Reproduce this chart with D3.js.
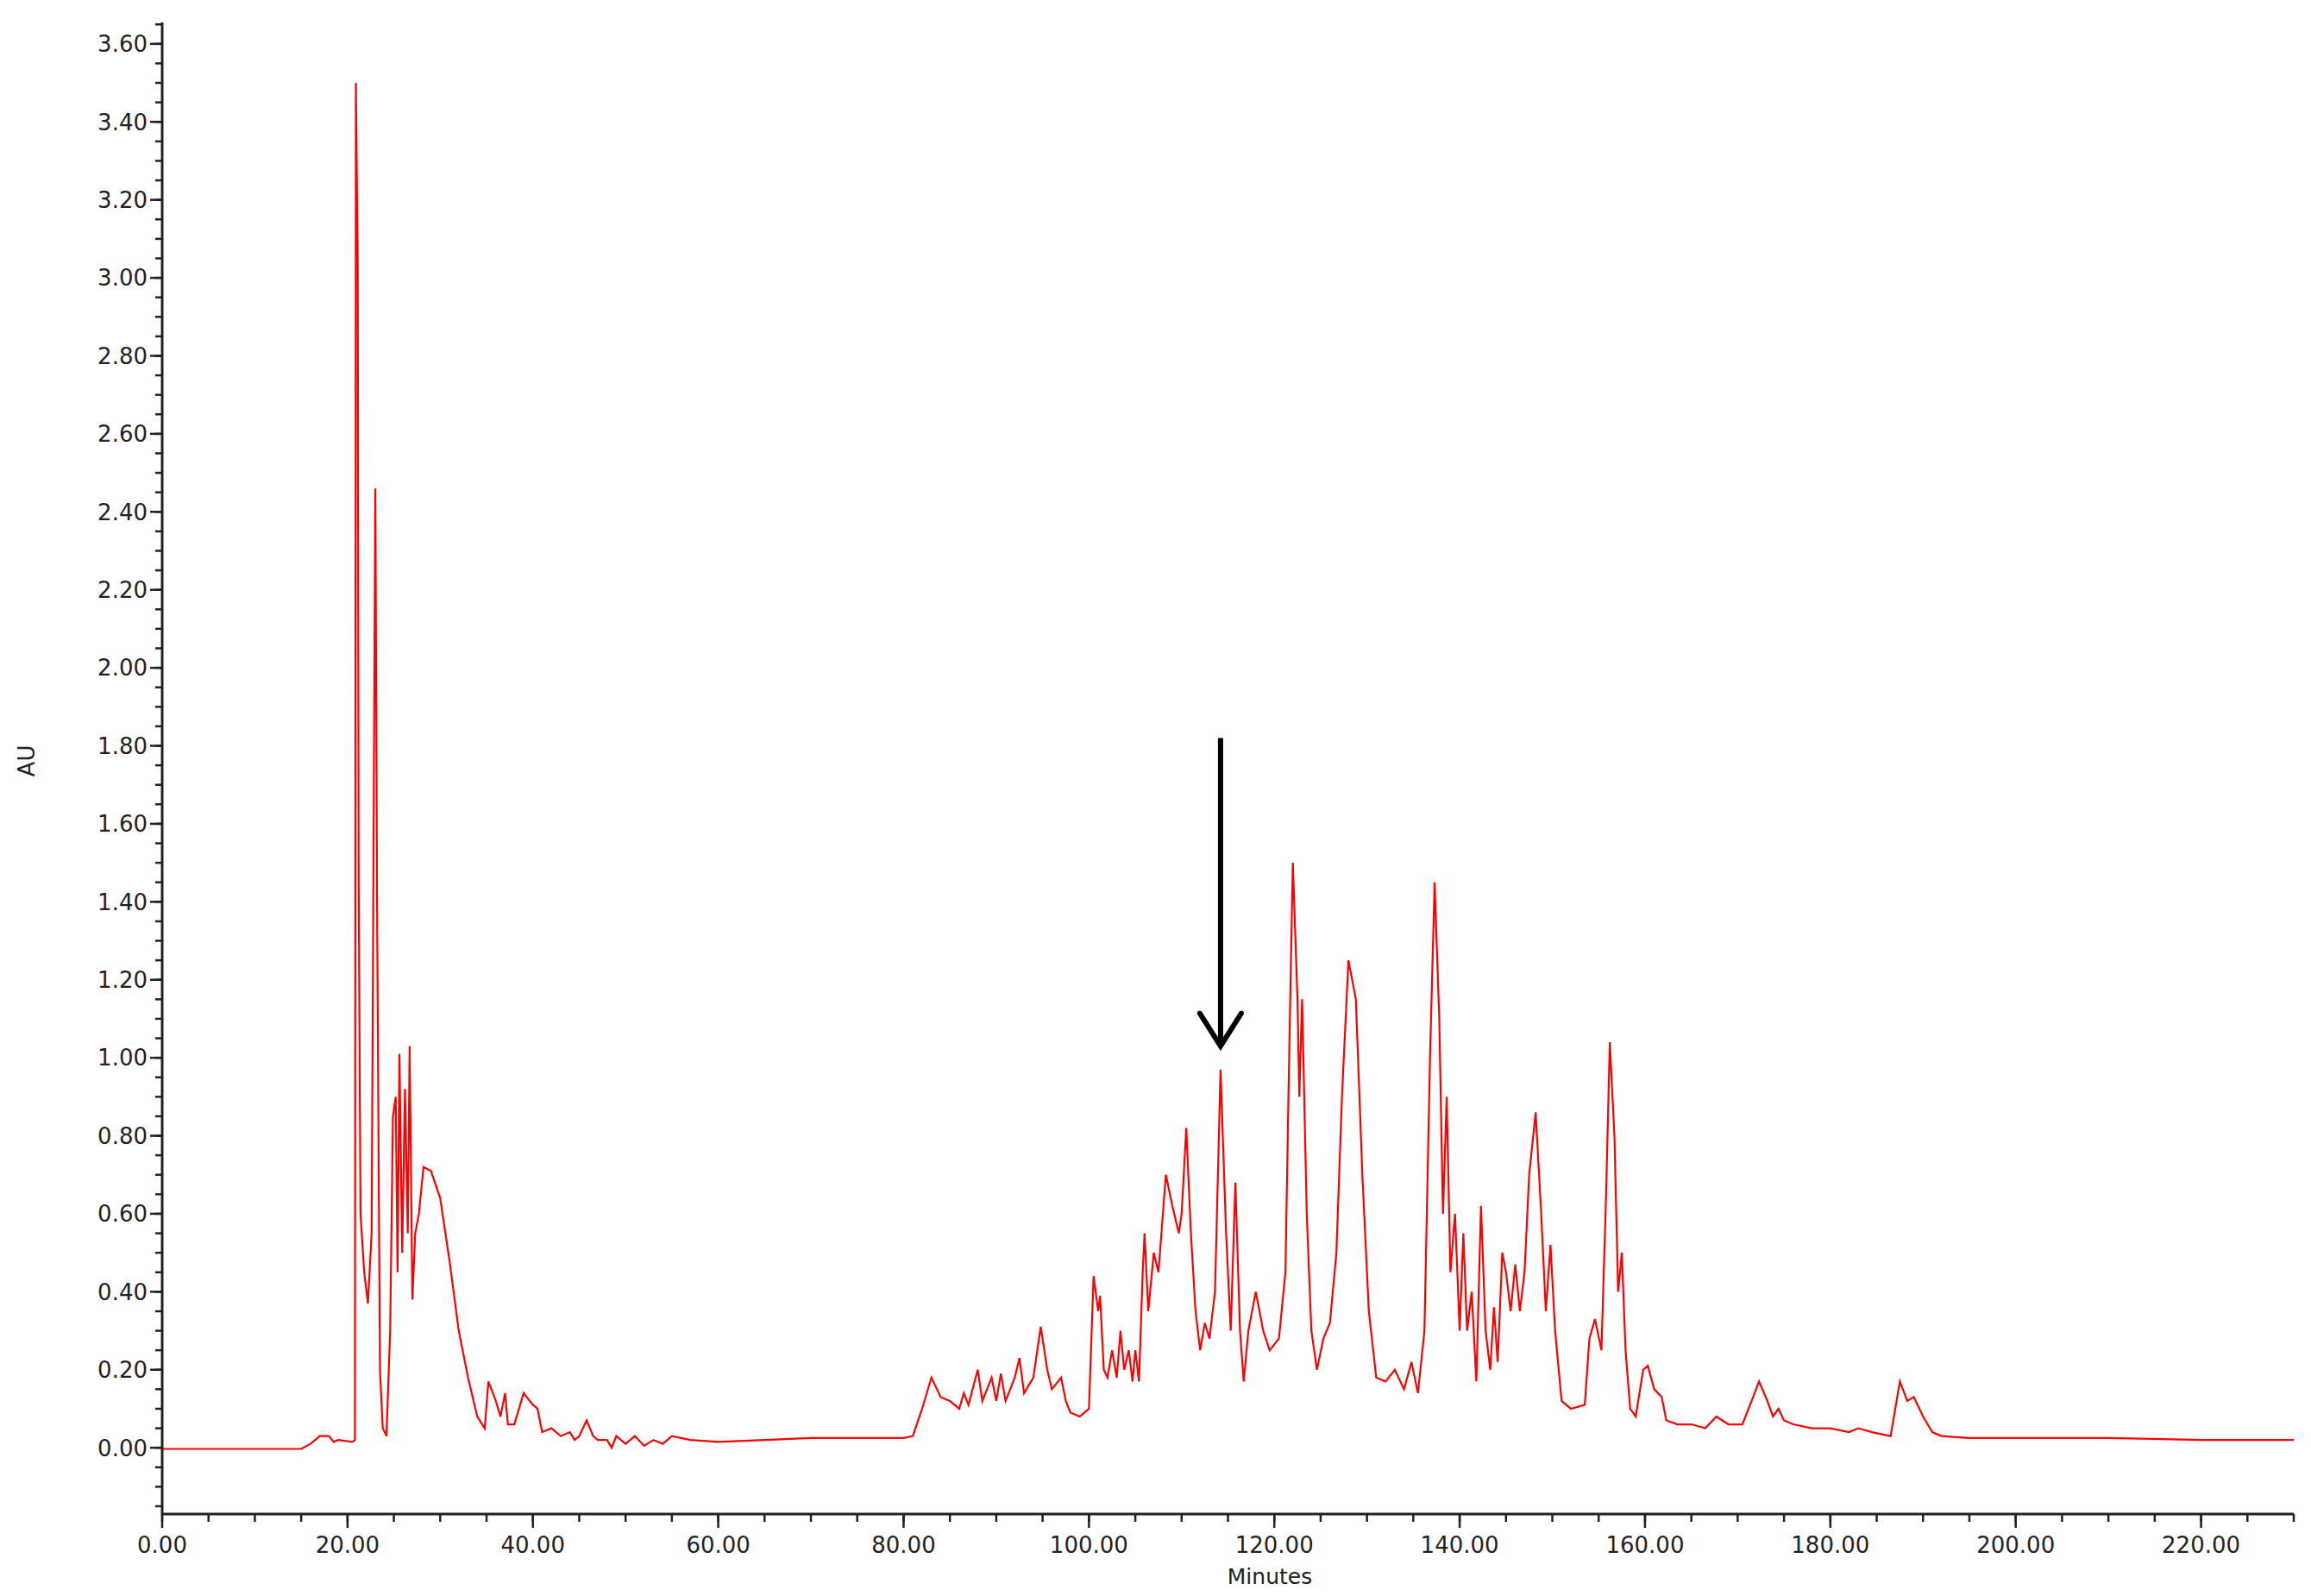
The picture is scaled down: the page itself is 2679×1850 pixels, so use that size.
<!DOCTYPE html>
<html><head><meta charset="utf-8">
<script src="https://cdn.jsdelivr.net/npm/d3@7"></script>
<style>body{margin:0;background:#fff}svg{display:block}</style>
</head><body>
<script>
const times = [0,15,16,17,18,18.5,19,20.5,20.8,20.9,21.1,21.2,21.4,21.8,22.2,22.6,23.0,23.2,23.5,23.8,24.2,24.6,24.9,25.2,25.4,25.6,25.9,26.2,26.5,26.7,27.0,27.3,27.7,28.2,29,30,31,32,33,34,34.8,35.2,36,36.5,37,37.3,38,39,40,40.5,41,42,43,44,44.5,45,45.8,46.5,47,48,48.5,49,50,51,52,53,54,55,57,60,65,70,75,80,81,82,83,84,85,86,86.5,87,88,88.5,89.5,90,90.5,91,92,92.5,93,94,94.8,95.5,96,97,97.5,98,99,100,100.5,101,101.2,101.6,102,102.5,103,103.4,103.8,104.3,104.7,105,105.4,105.8,106,106.4,107,107.5,108.3,109,109.7,110,110.5,111,111.5,112,112.5,113,113.6,114.2,114.8,115.3,115.8,116.3,116.7,117.2,118,118.8,119.5,120.5,121.2,121.6,122,122.5,122.7,123,123.5,124,124.6,125.3,126,126.7,127.3,128,128.8,129.5,130.2,131,132,133,134,134.8,135.5,136.2,136.8,137.3,137.8,138.2,138.6,139,139.5,140,140.4,140.8,141.3,141.8,142.3,142.8,143.3,143.7,144.1,144.6,145,145.5,146,146.5,147,147.5,148.2,148.8,149.3,149.8,150.3,151,152,153.5,154,154.6,155.3,155.8,156.2,156.7,157.1,157.5,157.9,158.4,159,159.8,160.3,161,161.8,162.3,163.5,165,166.5,167.7,169,170.5,171.5,172.3,173.2,173.8,174.4,175,176,178,180,182,183,184.5,186.5,187,187.5,188.3,189,190,191,192,195,200,210,220,230];
const absorb = [-0.003,-0.003,0.01,0.03,0.03,0.015,0.02,0.015,0.02,3.50,3.03,1.45,0.6,0.45,0.37,0.55,2.46,1.33,0.2,0.05,0.03,0.3,0.85,0.9,0.45,1.01,0.5,0.92,0.55,1.03,0.38,0.55,0.6,0.72,0.71,0.64,0.48,0.3,0.18,0.08,0.05,0.17,0.12,0.08,0.14,0.06,0.06,0.14,0.11,0.1,0.04,0.05,0.03,0.04,0.02,0.03,0.07,0.03,0.02,0.02,0.0,0.03,0.01,0.03,0.005,0.02,0.01,0.03,0.02,0.015,0.02,0.025,0.025,0.025,0.03,0.1,0.18,0.13,0.12,0.1,0.14,0.11,0.2,0.12,0.18,0.12,0.19,0.12,0.18,0.23,0.14,0.18,0.31,0.2,0.15,0.18,0.12,0.09,0.08,0.1,0.44,0.35,0.39,0.2,0.18,0.25,0.18,0.3,0.2,0.25,0.17,0.25,0.17,0.45,0.55,0.35,0.5,0.45,0.7,0.62,0.55,0.6,0.82,0.55,0.35,0.25,0.32,0.28,0.4,0.97,0.55,0.3,0.68,0.3,0.17,0.3,0.4,0.3,0.25,0.28,0.45,1.0,1.5,1.15,0.9,1.15,0.6,0.3,0.2,0.28,0.32,0.5,0.9,1.25,1.15,0.7,0.35,0.18,0.17,0.2,0.15,0.22,0.14,0.3,1.0,1.45,1.1,0.6,0.9,0.45,0.6,0.3,0.55,0.3,0.4,0.17,0.62,0.3,0.2,0.36,0.22,0.5,0.45,0.35,0.47,0.35,0.45,0.7,0.86,0.6,0.35,0.52,0.3,0.12,0.1,0.11,0.28,0.33,0.25,0.65,1.04,0.8,0.4,0.5,0.25,0.1,0.08,0.2,0.21,0.15,0.13,0.07,0.06,0.06,0.05,0.08,0.06,0.06,0.12,0.17,0.12,0.08,0.1,0.07,0.06,0.05,0.05,0.04,0.05,0.04,0.03,0.1,0.17,0.12,0.13,0.08,0.04,0.03,0.025,0.025,0.025,0.02,0.02];
const yTicks = [0,0.2,0.4,0.6,0.8,1.0,1.2,1.4,1.6,1.8,2.0,2.2,2.4,2.6,2.8,3.0,3.2,3.4,3.6];
const xTicks = [0,20,40,60,80,100,120,140,160,180,200,220];
const arrowAt = {t:114.2, from:1.82, to:1.03};

const W=2679,H=1850;
const svg=d3.select("body").append("svg").attr("width",W).attr("height",H);
const x=d3.scaleLinear().domain([0,230]).range([188,2659]);
const y=d3.scaleLinear().domain([-0.17,3.655]).range([1755,26]);
const font="'DejaVu Sans', Verdana, sans-serif";

const data=times.map((t,i)=>[t,absorb[i]]);
svg.append("path").datum(data).attr("fill","none").attr("stroke","#ff0000").attr("stroke-width",2.2)
  .attr("d",d3.line().x(d=>x(d[0])).y(d=>y(d[1])));

const ya=svg.append("g").attr("transform","translate(188,0)");
ya.append("line").attr("y1",26).attr("y2",1755).attr("stroke","#222").attr("stroke-width",3);
const yMinor=d3.range(-0.15,3.66,0.05);
ya.selectAll(".ym").data(yMinor).join("line").attr("x1",-8).attr("x2",0).attr("y1",d=>y(d)).attr("y2",d=>y(d)).attr("stroke","#222").attr("stroke-width",2.5);
ya.selectAll(".yM").data(yTicks).join("line").attr("x1",-14).attr("x2",0).attr("y1",d=>y(d)).attr("y2",d=>y(d)).attr("stroke","#222").attr("stroke-width",2.5);
ya.selectAll("text").data(yTicks).join("text").attr("x",-17).attr("y",d=>y(d)).attr("dy","0.36em")
  .attr("text-anchor","end").attr("font-family",font).attr("font-size",26).attr("fill","#222").text(d=>d.toFixed(2));

const xa=svg.append("g").attr("transform","translate(0,1755)");
xa.append("line").attr("x1",188).attr("x2",2659).attr("stroke","#222").attr("stroke-width",3);
const xMinor=d3.range(0,231,5);
xa.selectAll(".xm").data(xMinor).join("line").attr("x1",d=>x(d)).attr("x2",d=>x(d)).attr("y1",0).attr("y2",9).attr("stroke","#222").attr("stroke-width",2.5);
xa.selectAll(".xM").data(xTicks).join("line").attr("x1",d=>x(d)).attr("x2",d=>x(d)).attr("y1",0).attr("y2",16).attr("stroke","#222").attr("stroke-width",2.5);
xa.selectAll("text").data(xTicks).join("text").attr("x",d=>x(d)).attr("y",45)
  .attr("text-anchor","middle").attr("font-family",font).attr("font-size",26).attr("fill","#222").text(d=>d.toFixed(2));

svg.append("text").attr("x",1472).attr("y",1836).attr("text-anchor","middle").attr("font-family",font).attr("font-size",25).attr("fill","#222").text("Minutes");
svg.append("text").attr("transform","translate(40,882) rotate(-90)").attr("text-anchor","middle").attr("font-family",font).attr("font-size",26).attr("fill","#222").text("AU");

const ax=x(arrowAt.t), ay1=y(arrowAt.from), ay2=y(arrowAt.to);
svg.append("line").attr("x1",ax).attr("x2",ax).attr("y1",ay1).attr("y2",ay2-4).attr("stroke","#000").attr("stroke-width",6);
svg.append("path").attr("d",`M${ax-24},${ay2-38} L${ax},${ay2} L${ax+24},${ay2-38}`).attr("fill","none").attr("stroke","#000").attr("stroke-width",6).attr("stroke-linecap","round");
</script>
</body></html>
